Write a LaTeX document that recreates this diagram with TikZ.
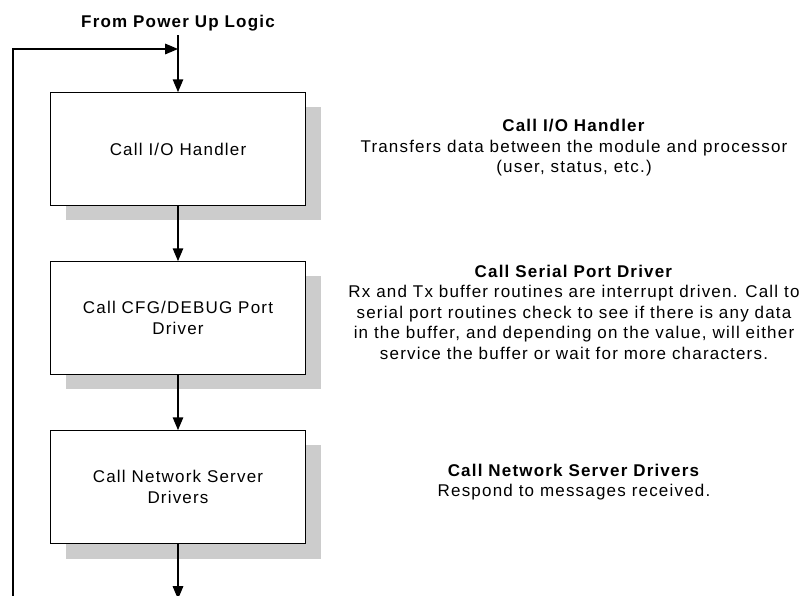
\documentclass[tikz,border=0pt]{standalone}
\usepackage{fontspec}
\setmainfont{Liberation Sans}[LetterSpace=7]
\usetikzlibrary{shapes,arrows,shadows}
\tikzstyle{block} = [rectangle, draw, fill=white, line width=0.8pt,
    minimum width=255pt, minimum height=113pt, align=center,
    copy shadow={shadow xshift=15pt, shadow yshift=-15pt, fill=black!20, draw=none}]
\tikzstyle{line} = [line width=2pt,->,>=triangle 45]
\tikzstyle{note} = [align=center, inner sep=0pt]

\begin{document}
\begin{tikzpicture}[x=1pt, y=-1pt, node distance=169pt, font=\fontsize{17}{20.5}\selectfont]
    \useasboundingbox (0,0) rectangle (807,596);
    % Place nodes
    \node [block] (io) at (178,149) {Call I/O Handler};
    \node [block, below of=io] (cfg) {Call CFG/DEBUG Port\\Driver};
    \node [block, below of=cfg] (net) {Call Network Server\\Drivers};
    \node [font=\fontsize{17}{20}\selectfont\bfseries, inner sep=4pt] (start) at (178,23) {From Power Up Logic};
    \coordinate (join) at (178,49);
    \coordinate (loopbot) at (13,600);
    \coordinate (exit) at (178,599);
    % Descriptions
    \node [note] (ionote) at (574,148) {\textbf{Call I/O Handler}\\
        Transfers data between the module and processor\\(user, status, etc.)};
    \node [note] (cfgnote) at (574,312) {\textbf{Call Serial Port Driver}\\
        Rx and Tx buffer routines are interrupt driven. Call to\\
        serial port routines check to see if there is any data\\
        in the buffer, and depending on the value, will either\\
        service the buffer or wait for more characters.};
    \node [note] (netnote) at (574,482) {\textbf{Call Network Server Drivers}\\
        Respond to messages received.};
    % Draw edges
    \draw [line] (start) -- (io);
    \draw [line] (loopbot) |- (join);
    \draw [line] (io) -- (cfg);
    \draw [line] (cfg) -- (net);
    \draw [line] (net) -- (exit);
\end{tikzpicture}
\end{document}
